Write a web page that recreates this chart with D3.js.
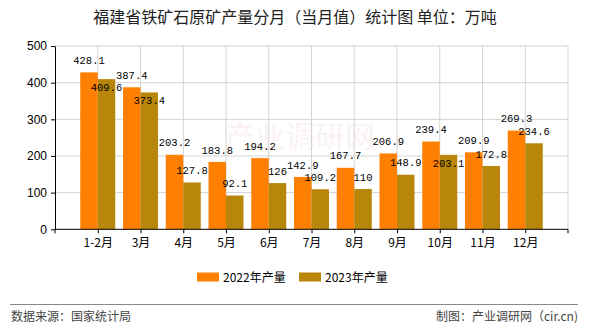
<!DOCTYPE html>
<html><head><meta charset="utf-8">
<script src="https://cdn.jsdelivr.net/npm/d3@7"></script>
<style>body{margin:0;background:#fff;} svg{display:block;}</style>
</head><body>
<script>
const categories = ["1-2月","3月","4月","5月","6月","7月","8月","9月","10月","11月","12月"];
const series2022 = [428.1,387.4,203.2,183.8,194.2,142.9,167.7,206.9,239.4,209.9,269.3];
const series2023 = [409.6,373.4,127.8,92.1,126,109.2,110,148.9,203.1,172.8,234.6];
const seriesNames = ["2022年产量","2023年产量"];
const yTicks = [0,100,200,300,400,500];
const title = "福建省铁矿石原矿产量分月（当月值）统计图 单位：万吨";
const sourceText = "数据来源：国家统计局";
const creditText = "制图：产业调研网（cir.cn)";

const W=590,H=330;
const L=55,R=568,T=46,B=229.3;
const colors=["#FF8000","#B8860B"];
const svg=d3.select("body").append("svg").attr("width",W).attr("height",H);
const cjk="'Noto Sans CJK SC','Noto Sans',sans-serif";
const mono="'Liberation Mono','DejaVu Sans Mono',monospace";

const x=d3.scalePoint().domain(categories).range([L,R]).padding(1);
const y=d3.scaleLinear().domain([0,500]).range([B,T]);
const bw=17.5;

// title
svg.append("text").attr("x",295).attr("y",23).attr("text-anchor","middle")
  .style("font-family",cjk).style("font-size","16px").attr("fill","#222").text(title);

// watermark
svg.append("text").attr("x",300).attr("y",147).attr("text-anchor","middle")
  .style("font-family",cjk).style("font-size","30px").attr("fill","#f7ecea").attr("opacity",0.6).text("产业调研网");

// gridlines
const g=svg.append("g");
g.selectAll(".hg").data(yTicks.filter(d=>d>0)).enter().append("line")
  .attr("x1",L).attr("x2",R).attr("y1",d=>y(d)).attr("y2",d=>y(d)).attr("stroke","#d3d3d3");
g.selectAll(".vg").data(categories).enter().append("line")
  .attr("x1",d=>x(d)).attr("x2",d=>x(d)).attr("y1",T).attr("y2",B).attr("stroke","#d3d3d3");
g.append("line").attr("x1",R).attr("x2",R).attr("y1",T).attr("y2",B).attr("stroke","#d3d3d3");

// bars
const data=categories.map((c,i)=>({c,a:series2022[i],b:series2023[i]}));
svg.selectAll(".ba").data(data).enter().append("rect")
  .attr("x",d=>x(d.c)-bw).attr("width",bw).attr("y",d=>y(d.a)).attr("height",d=>B-y(d.a)).attr("fill",colors[0]);
svg.selectAll(".bb").data(data).enter().append("rect")
  .attr("x",d=>x(d.c)).attr("width",bw).attr("y",d=>y(d.b)).attr("height",d=>B-y(d.b)).attr("fill",colors[1]);

// axes
const ya=svg.append("g").attr("transform",`translate(${L},0)`).call(d3.axisLeft(y).tickValues(yTicks).tickSize(4).tickSizeOuter(0));
ya.select(".domain").attr("stroke","#000");
ya.selectAll("text").style("font-family","'Liberation Sans',Arial,sans-serif").style("font-size","12px").attr("fill","#000").attr("dx","-1");
const xa=svg.append("g").attr("transform",`translate(0,${B})`).call(d3.axisBottom(x).tickSize(4).tickSizeOuter(4));
xa.select(".domain").attr("stroke","#000").attr("d",`M${L},4V0H${R}V4`);
xa.selectAll("text").style("font-family",cjk).style("font-size","12px").attr("fill","#000").attr("dy","0.9em");

// labels: 2022 labels above bars; 2023 labels above bars unless colliding with another label
const CW=6, LH=11;
const labA=data.map(d=>({x:x(d.c)-bw/2,y:y(d.a)-12,t:String(d.a)}));
const labB=data.map(d=>({x:x(d.c)+bw/2,y:y(d.b)-12,t:String(d.b),top:y(d.b)}));
function hits(p,q){return Math.abs(p.x-q.x)<(p.t.length+q.t.length)*CW/2 && Math.abs(p.y-q.y)<LH;}
labB.forEach(l=>{ if(labA.some(a=>hits(a,l))) l.y=l.top+8; });
svg.selectAll(".la").data(labA).enter().append("text")
  .attr("x",d=>d.x).attr("y",d=>d.y).attr("dy","0.35em").attr("text-anchor","middle")
  .style("font-family",mono).style("font-size","10.5px").attr("fill","#000").text(d=>d.t);
svg.selectAll(".lb").data(labB).enter().append("text")
  .attr("x",d=>d.x).attr("y",d=>d.y).attr("dy","0.35em").attr("text-anchor","middle")
  .style("font-family",mono).style("font-size","10.5px").attr("fill","#000").text(d=>d.t);

// legend
const lg=svg.append("g");
const lx=[197,299];
seriesNames.forEach((n,i)=>{
  lg.append("rect").attr("x",lx[i]).attr("y",272.5).attr("width",22).attr("height",9).attr("fill",colors[i]);
  lg.append("text").attr("x",lx[i]+26).attr("y",281.5).style("font-family",cjk).style("font-size","12px").attr("fill","#000").text(n);
});

// footer
svg.append("line").attr("x1",10).attr("x2",578).attr("y1",304.5).attr("y2",304.5).attr("stroke","#888").attr("stroke-width",1);
svg.append("text").attr("x",11).attr("y",321).style("font-family",cjk).style("font-size","12px").attr("fill","#444").text(sourceText);
svg.append("text").attr("x",578).attr("y",321).attr("text-anchor","end").style("font-family",cjk).style("font-size","12px").attr("fill","#444").text(creditText);
</script>
</body></html>
